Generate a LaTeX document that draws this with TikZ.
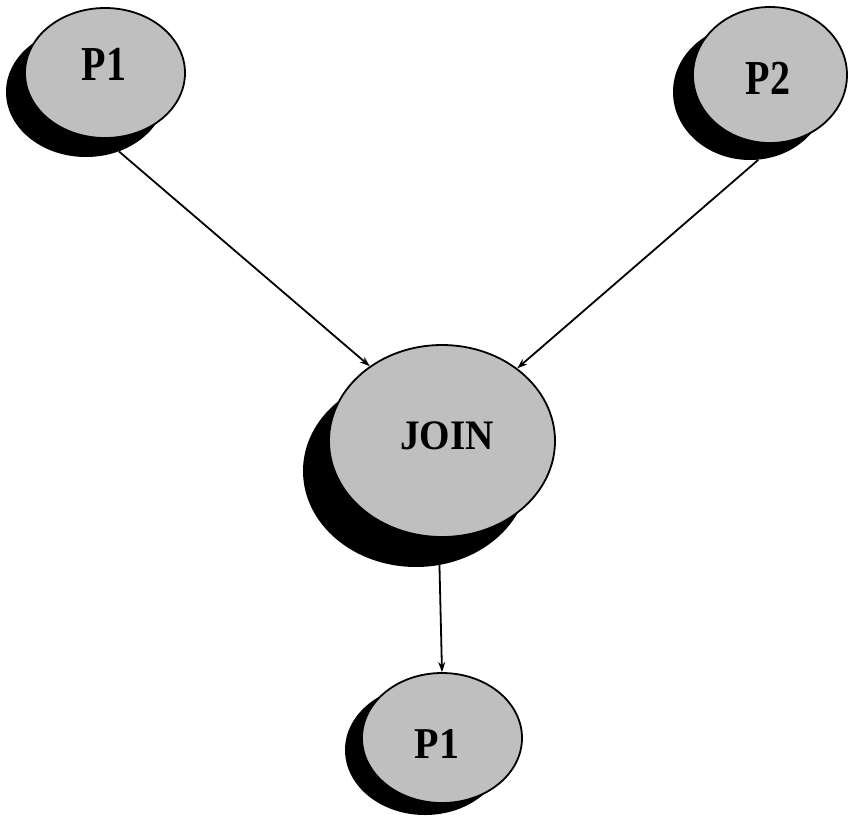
\documentclass[tikz,border=0pt]{standalone}
\usepackage{fontspec}
\usepackage{graphicx}
\setmainfont{Liberation Serif}
\usetikzlibrary{shapes.geometric,arrows.meta}
\newcommand{\tallbf}[1]{\scalebox{1}[1.22]{#1}}
\begin{document}
\begin{tikzpicture}[x=1pt,y=-1pt,
  face/.style={ellipse, draw=black, line width=1.8pt, fill=black!25, inner sep=0pt},
  shadowel/.style={ellipse, fill=black, inner sep=0pt},
  lbl/.style={font=\fontsize{40}{40}\selectfont\bfseries, inner sep=0pt},
  conn/.style={line width=1.8pt},
  tip/.style={-{Stealth[length=10pt,width=7pt]}}]
\useasboundingbox (0,0) rectangle (849,825);
% P1 top
\node[shadowel, minimum width=160pt, minimum height=130pt] (p1s) at (86,92) {};
\node[face, minimum width=160pt, minimum height=130pt] (p1) at (105,73) {};
\node[lbl] (p1t) at (104,64) {\tallbf{P1}};
% P2
\node[shadowel, minimum width=154pt, minimum height=136pt] (p2s) at (750,92) {};
\node[face, minimum width=154pt, minimum height=136pt] (p2) at (770,75) {};
\node[lbl] (p2t) at (768,78) {\tallbf{P2}};
% JOIN
\node[shadowel, minimum width=226pt, minimum height=192pt] (joins) at (416,471) {};
\node[face, minimum width=226pt, minimum height=192pt] (join) at (442,441) {};
\node[lbl] (joint) at (447,436) {\scalebox{0.98}[1.05]{JOIN}};
% P1 bottom
\node[shadowel, minimum width=160pt, minimum height=130pt] (p1bs) at (425,750) {};
\node[face, minimum width=160pt, minimum height=130pt] (p1b) at (442,738) {};
\node[lbl] (p1bt) at (437,744) {\scalebox{1}[1.1]{P1}};
% connectors
\draw[conn,tip] (p1s.-61) -- (join.134);
\draw[conn,tip] (p2s.-83) -- (join.44);
\draw[conn,tip] (joins.-76) -- (p1b.north);
\end{tikzpicture}
\end{document}
